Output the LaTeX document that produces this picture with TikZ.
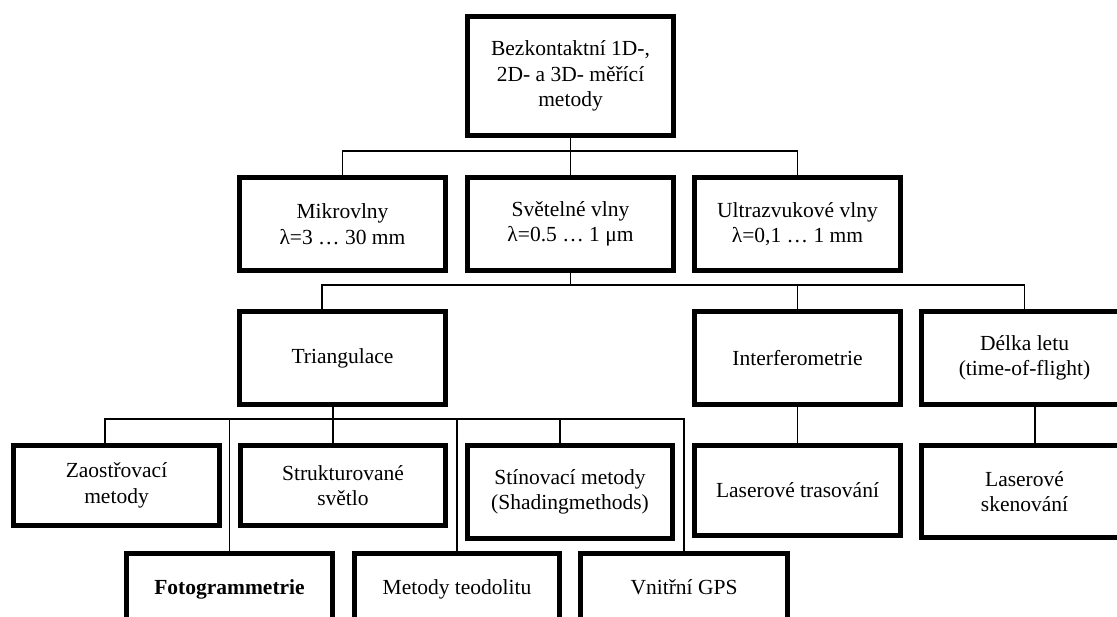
\documentclass[tikz,border=0pt]{standalone}
\usepackage{fontspec}
\setmainfont{Liberation Serif}
\begin{document}
\begin{tikzpicture}[x=1pt,y=-1pt,
  box/.style={draw, line width=5pt, inner sep=0pt, outer sep=0pt, align=center,
    font=\fontsize{21.5}{25.5}\selectfont},
  link/.style={line width=1.3pt}]
\useasboundingbox (0,0) rectangle (1117,617);
\clip (0,0) rectangle (1117,617);
% level 1
\node[box, minimum width=206pt, minimum height=119pt] (top) at (570.5,76) {Bezkontaktní 1D-,\\2D- a 3D- měřící\\metody};
% level 2
\node[box, minimum width=206pt, minimum height=93pt] (mik) at (342.5,224) {Mikrovlny\\λ=3 … 30 mm};
\node[box, minimum width=206pt, minimum height=93pt] (svet) at (570.5,224) {Světelné vlny\\λ=0.5 … 1 μm};
\node[box, minimum width=206pt, minimum height=93pt] (ult) at (797.5,224) {Ultrazvukové vlny\\λ=0,1 … 1 mm};
% level 3
\node[box, minimum width=206pt, minimum height=93pt] (tri) at (342.5,358) {Triangulace};
\node[box, minimum width=206pt, minimum height=93pt] (inter) at (797.5,358) {Interferometrie};
\node[box, minimum width=206pt, minimum height=93pt] (delka) at (1024.5,358) {Délka letu\\(time-of-flight)};
% level 4
\node[box, minimum width=206pt, minimum height=80pt] (zao) at (116.5,485.5) {Zaostřovací\\metody};
\node[box, minimum width=205pt, minimum height=80pt] (strukt) at (343,485.5) {Strukturované\\světlo};
\node[box, minimum width=205pt, minimum height=93pt] (stin) at (570,492) {Stínovací metody\\(Shadingmethods)};
\node[box, minimum width=206pt, minimum height=90pt] (lt) at (797.5,490.5) {Laserové trasování};
\node[box, minimum width=206pt, minimum height=92pt] (ls) at (1024.5,491.5) {Laserové\\skenování};
% level 5
\node[box, minimum width=206pt, text height=41pt, text depth=55pt, anchor=base] (foto) at (229.5,594.5) {\textbf{Fotogrammetrie}};
\node[box, minimum width=205pt, text height=41pt, text depth=55pt, anchor=base] (teo) at (457,594.5) {Metody teodolitu};
\node[box, minimum width=207pt, text height=41pt, text depth=55pt, anchor=base] (gps) at (684,594.5) {Vnitřní GPS};
% connectors
\coordinate (b1) at (570.5,151);
\coordinate (b2) at (570.5,285);
\coordinate (b3) at (333,419);
\draw[link] (top.south) -- (svet.north);
\draw[link] (mik.north) |- (b1) -| (ult.north);
\draw[link] (svet.south) -- (b2);
\draw[link] ([xshift=-20.5pt]tri.north) |- (b2) -| (delka.north);
\draw[link] (b2) -| (inter.north);
\draw[link] ([xshift=-9.5pt]tri.south) -- ([xshift=-10pt]strukt.north);
\draw[link] ([xshift=-11.5pt]zao.north) |- (b3) -| (gps.north);
\draw[link] (b3) -| (foto.north);
\draw[link] (b3) -| (teo.north);
\draw[link] (b3) -| ([xshift=-10pt]stin.north);
\draw[link] (inter.south) -- (lt.north);
\draw[link] ([xshift=10.5pt]delka.south) -- ([xshift=10.5pt]ls.north);
\end{tikzpicture}
\end{document}
